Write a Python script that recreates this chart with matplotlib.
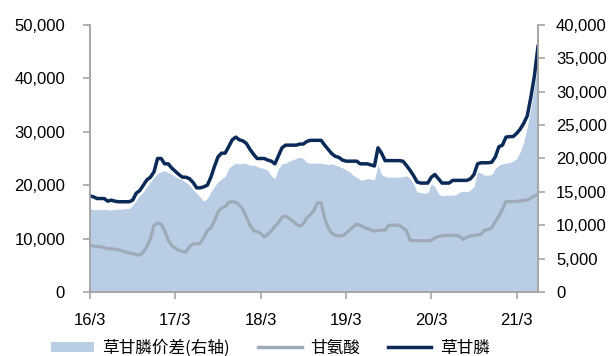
import matplotlib
matplotlib.use("Agg")
import matplotlib.pyplot as plt
from matplotlib.patches import Patch
from matplotlib.lines import Line2D
import numpy as np

plt.rcParams["font.family"] = ["Liberation Sans", "Noto Sans CJK SC", "DejaVu Sans"]

# half-monthly samples, 2016/3 .. 2021/6
x_ticklabels = ["16/3", "17/3", "18/3", "19/3", "20/3", "21/3"]
tick_idx = [0, 24, 48, 72, 96, 120]

glyphosate = [
    18000, 17800, 17500, 17500, 17500, 17000, 17200, 17000, 16900, 16900,
    16900, 16900, 17200, 18500, 19000, 20000, 21000, 21500, 22500, 25000,
    25000, 24000, 24000, 23200, 22600, 22000, 21500, 21500, 21200, 20500,
    19500, 19500, 19700, 20000, 21500, 23500, 25300, 26000, 26000, 27200,
    28500, 29000, 28500, 28300, 27800, 26700, 25800, 25000, 25000, 25000,
    24700, 24500, 24000, 25500, 27000, 27500, 27500, 27500, 27500, 27700,
    27700, 28200, 28400, 28400, 28400, 28400, 27500, 26700, 25900, 25400,
    25200, 24700, 24500, 24500, 24500, 24500, 24000, 24000, 24000, 23800,
    23600, 27000, 26000, 24600, 24600, 24600, 24600, 24600, 24500, 23700,
    22800, 21800, 20600, 20400, 20400, 20400, 21500, 22000, 21200, 20400,
    20400, 20400, 20900, 20900, 20900, 20900, 20900, 21200, 22000, 24000,
    24200, 24200, 24200, 24300, 25300, 27200, 27500, 29000, 29100, 29100,
    29700, 30500, 31600, 33000, 36500, 40500, 46000,
]

glycine = [
    8750, 8600, 8500, 8500, 8300, 8100, 8100, 8000, 7900, 7700,
    7500, 7300, 7200, 7000, 6900, 7500, 8500, 10000, 12500, 12900,
    12700, 11500, 9700, 8700, 8200, 7800, 7600, 7500, 8500, 9000,
    9000, 9100, 10200, 11500, 12000, 13300, 15000, 15700, 16000, 16800,
    16900, 16800, 16300, 15500, 14000, 12500, 11500, 11300, 11000, 10300,
    10800, 11500, 12300, 13000, 14000, 14200, 13800, 13300, 12700, 12300,
    12800, 13900, 14500, 15300, 16700, 16700, 13800, 12000, 11000, 10600,
    10500, 10500, 11000, 11600, 12200, 12700, 12500, 12100, 11900, 11600,
    11400, 11500, 11600, 11600, 12500, 12500, 12500, 12500, 12000, 11500,
    9700, 9600, 9600, 9600, 9600, 9600, 9700, 10100, 10400, 10500,
    10600, 10600, 10600, 10600, 10400, 9800, 10300, 10500, 10600, 10700,
    10800, 11600, 11700, 12000, 13200, 14200, 15500, 17000, 16900, 16900,
    17000, 17000, 17200, 17200, 17600, 18000, 18300,
]

spread = [
    12500, 12300, 12400, 12300, 12400, 12300, 12300, 12400, 12400, 12400,
    12500, 12500, 13000, 13700, 14500, 15000, 15800, 16500, 17200, 17800,
    18000, 18200, 17900, 17600, 17300, 17000, 16800, 16400, 16000, 15300,
    14800, 14200, 13600, 14000, 15000, 15800, 16500, 17000, 17300, 18500,
    19000, 19300, 19200, 19300, 19200, 19000, 19000, 18800, 18600, 18500,
    18200, 17400, 17000, 18500, 19200, 19300, 19600, 19800, 20000, 20200,
    20000, 19400, 19300, 19300, 19300, 19300, 19200, 19100, 19200, 19000,
    18800, 18600, 18300, 18000, 17500, 17200, 16800, 16800, 17000, 16900,
    16800, 19000, 17600, 17300, 17200, 17200, 17200, 17200, 17300, 17400,
    17000, 16200, 15000, 14900, 14800, 14900, 16200, 15800, 14700, 14400,
    14500, 14500, 14500, 14600, 15000, 15100, 15000, 15300, 15800, 18000,
    17800, 17500, 17500, 17600, 18500, 19000, 19200, 19300, 19400, 19600,
    20000, 21000, 22500, 24800, 27500, 31000, 34000,
]

AREA = "#B9CDE5"
GRAY = "#9EABB7"
NAVY = "#0B2A57"
SPINE = "#A6A6A6"

x = np.arange(len(glyphosate))

fig = plt.figure(figsize=(6.14, 3.56), dpi=100)
ax = fig.add_axes([0.1466, 0.1798, 0.7296, 0.75])
ax2 = ax.twinx()

ax2.fill_between(x, 0, spread, color=AREA, linewidth=0, zorder=1)
ax2.set_zorder(0)
ax.set_zorder(1)
ax.patch.set_visible(False)

ax.plot(x, glycine, color=GRAY, linewidth=2.3, solid_joinstyle="round")
ax.plot(x, glyphosate, color=NAVY, linewidth=2.5, solid_joinstyle="round")

ax.set_xlim(0, len(x) - 1)
ax.set_ylim(0, 50000)
ax2.set_ylim(0, 40000)
ax.set_yticks(np.arange(0, 50001, 10000))
ax2.set_yticks(np.arange(0, 40001, 5000))
ax.yaxis.set_major_formatter(matplotlib.ticker.FuncFormatter(lambda v, p: f"{int(v):,}"))
ax2.yaxis.set_major_formatter(matplotlib.ticker.FuncFormatter(lambda v, p: f"{int(v):,}"))
ax.set_xticks(tick_idx)
ax.set_xticklabels(x_ticklabels)

for a in (ax, ax2):
    a.spines["top"].set_visible(False)
    for s in ("left", "right", "bottom"):
        a.spines[s].set_color(SPINE)
        a.spines[s].set_linewidth(1.2)
ax.tick_params(axis="y", direction="out", length=5, width=1.2, color=SPINE, labelsize=12, pad=13)
ax2.tick_params(axis="y", direction="out", length=5, width=1.2, color=SPINE, labelsize=12, pad=8)
ax.tick_params(axis="x", direction="out", length=5, width=1.2, color=SPINE, labelsize=12, pad=10)

handles = [
    Patch(facecolor=AREA, edgecolor="none"),
    Line2D([0], [0], color=GRAY, linewidth=2.5),
    Line2D([0], [0], color=NAVY, linewidth=2.5),
]
labels = ["草甘膦价差(右轴)", "甘氨酸", "草甘膦"]
fig.legend(handles, labels, loc="lower center", bbox_to_anchor=(0.44, -0.045), ncol=3,
           frameon=False, handlelength=2.6, handleheight=0.6,
           columnspacing=1.7, handletextpad=0.5,
           prop={"family": ["Noto Sans CJK SC", "DejaVu Sans"], "size": 12})

fig.savefig("out.png", dpi=100)
